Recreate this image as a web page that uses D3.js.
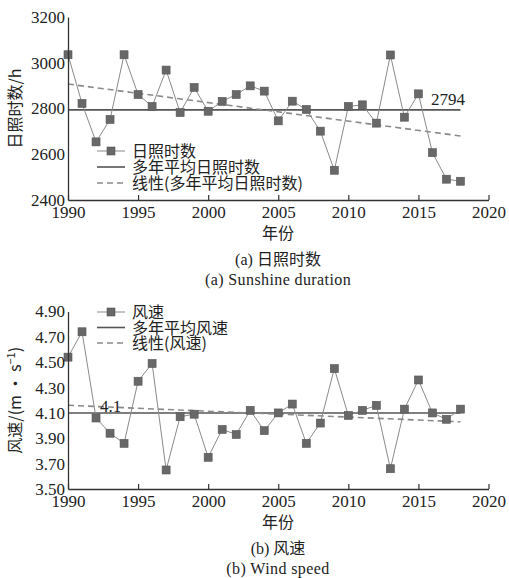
<!DOCTYPE html>
<html>
<head>
<meta charset="utf-8">
<script src="https://cdn.jsdelivr.net/npm/d3@7"></script>
<style>
  body { margin: 0; background: #fff; }
  text { fill: #222; }
  .num { font-family: "Liberation Serif", "Times New Roman", serif; font-size: 17px; }
  .cjk { font-family: "Noto Sans CJK SC", sans-serif; font-size: 16px; }
</style>
</head>
<body>
<script>
// years shared by both panels
var years = d3.range(1990, 2019);

// (a) sunshine duration, hours
var sunshine = [3035, 2822, 2654, 2752, 3035, 2861, 2809, 2968, 2782, 2892,
                2788, 2831, 2861, 2899, 2876, 2746, 2832, 2796, 2701, 2530,
                2809, 2816, 2736, 3034, 2762, 2864, 2607, 2491, 2482];
var sunMean = 2794;
var sunTrend = [2907, 2680];   // linear fit at 1990 and 2018
var sunTicks = [2400, 2600, 2800, 3000, 3200];

// (b) wind speed, m/s
var wind = [4.54, 4.74, 4.06, 3.94, 3.86, 4.35, 4.49, 3.65, 4.07, 4.09,
            3.75, 3.97, 3.93, 4.12, 3.96, 4.10, 4.17, 3.86, 4.02, 4.45,
            4.08, 4.12, 4.16, 3.66, 4.13, 4.36, 4.10, 4.05, 4.13];
var windMean = 4.1;
var windTrend = [4.16, 4.03];
var windTicks = [3.50, 3.70, 3.90, 4.10, 4.30, 4.50, 4.70, 4.90];

var xTicks = [1990, 1995, 2000, 2005, 2010, 2015, 2020];

var W = 509, H = 578;
var svg = d3.select("body").append("svg")
  .attr("width", W)
  .attr("height", H);

var x = d3.scaleLinear().domain([1990, 2020]).range([68, 488.5]);

function panel(opt) {
  var y = d3.scaleLinear().domain(opt.domain).range([opt.bottom, opt.top]);
  var g = svg.append("g");
  var pts = years.map(function(yr, i) { return {year: yr, v: opt.values[i]}; });

  // mean line
  g.append("line")
    .attr("x1", x(1990)).attr("x2", x(2018))
    .attr("y1", y(opt.mean)).attr("y2", y(opt.mean))
    .attr("stroke", "#555").attr("stroke-width", 1.6);

  // linear trend
  g.append("line")
    .attr("x1", x(1990)).attr("x2", x(2018))
    .attr("y1", y(opt.trend[0])).attr("y2", y(opt.trend[1]))
    .attr("stroke", "#8a8a8a").attr("stroke-width", 1.6)
    .attr("stroke-dasharray", "6,4");

  // data line + markers
  var line = d3.line()
    .x(function(d) { return x(d.year); })
    .y(function(d) { return y(d.v); });
  g.append("path").datum(pts)
    .attr("d", line)
    .attr("fill", "none").attr("stroke", "#8a8a8a").attr("stroke-width", 1);
  g.selectAll("rect.m").data(pts).enter().append("rect")
    .attr("class", "m")
    .attr("x", function(d) { return x(d.year) - 4; })
    .attr("y", function(d) { return y(d.v) - 4; })
    .attr("width", 8).attr("height", 8)
    .attr("fill", "#686868").attr("stroke", "#555").attr("stroke-width", 0.6);

  // mean label
  g.append("text").attr("class", "num")
    .attr("x", opt.meanLabelX).attr("y", y(opt.mean) + opt.meanLabelDy)
    .text(opt.meanLabel);

  // axes
  var xa = g.append("g")
    .attr("transform", "translate(0," + opt.bottom + ")")
    .call(d3.axisBottom(x).tickValues(xTicks).tickFormat(d3.format("d"))
      .tickSizeInner(-5).tickSizeOuter(0).tickPadding(6));
  xa.selectAll("text").attr("class", "num").attr("fill", "#222");

  var ya = g.append("g")
    .attr("transform", "translate(" + x(1990) + ",0)")
    .call(d3.axisLeft(y).tickValues(opt.ticks).tickFormat(opt.fmt)
      .tickSizeInner(0).tickSizeOuter(0).tickPadding(3));
  ya.selectAll("text").attr("class", "num").attr("fill", "#222");
  g.selectAll(".domain").attr("stroke", "#333").attr("stroke-width", 1.3);
  g.selectAll(".tick line").attr("stroke", "#333").attr("stroke-width", 1.2);

  // y title
  g.append("text").attr("class", "cjk")
    .attr("transform", "translate(21," + ((opt.top + opt.bottom) / 2) + ") rotate(-90)")
    .attr("text-anchor", "middle")
    .html(opt.yTitle);

  // x title and captions
  g.append("text").attr("class", "cjk")
    .attr("x", 278).attr("y", opt.bottom + 39)
    .attr("text-anchor", "middle").text("年份");
  g.append("text")
    .attr("x", 278).attr("y", opt.bottom + 65)
    .attr("text-anchor", "middle")
    .html('<tspan class="num" style="font-size:16px">(' + opt.letter + ') </tspan><tspan class="cjk">' + opt.capCn + '</tspan>');
  g.append("text").attr("class", "num")
    .attr("x", 278).attr("y", opt.bottom + 85)
    .attr("text-anchor", "middle").style("font-size", "16px")
    .style("letter-spacing", "0.4px")
    .text("(" + opt.letter + ") " + opt.capEn);

  // legend
  var lg = g.append("g").attr("transform", "translate(97," + opt.legendY + ")");
  opt.legend.forEach(function(label, i) {
    var ly = i * opt.legendStep;
    var l = lg.append("line").attr("x1", 0).attr("x2", 28)
      .attr("y1", ly).attr("y2", ly);
    if (i === 0) {
      l.attr("stroke", "#8a8a8a").attr("stroke-width", 1);
      lg.append("rect").attr("x", 10).attr("y", ly - 4)
        .attr("width", 8).attr("height", 8)
        .attr("fill", "#686868").attr("stroke", "#555").attr("stroke-width", 0.6);
    } else if (i === 1) {
      l.attr("stroke", "#555").attr("stroke-width", 1.6);
    } else {
      l.attr("stroke", "#8a8a8a").attr("stroke-width", 1.6).attr("stroke-dasharray", "6,4");
    }
    lg.append("text").attr("class", "cjk").style("font-size", "16px")
      .attr("x", 35).attr("y", ly + 6).text(label);
  });
}

panel({
  values: sunshine, mean: sunMean, trend: sunTrend, ticks: sunTicks,
  domain: [2400, 3200], top: 17, bottom: 200, fmt: d3.format("d"),
  meanLabel: "2794", meanLabelX: 431, meanLabelDy: -5,
  yTitle: "日照时数/h",
  letter: "a", capCn: "日照时数", capEn: "Sunshine duration",
  legend: ["日照时数", "多年平均日照时数", "线性(多年平均日照时数)"],
  legendY: 151, legendStep: 16
});

panel({
  values: wind, mean: windMean, trend: windTrend, ticks: windTicks,
  domain: [3.5, 4.9], top: 311.5, bottom: 489, fmt: d3.format(".2f"),
  meanLabel: "4.1", meanLabelX: 100, meanLabelDy: -1,
  yTitle: '风速/(m • s<tspan dy="-6" style="font-size:11px">−1</tspan><tspan dy="6">)</tspan>',
  letter: "b", capCn: "风速", capEn: "Wind speed",
  legend: ["风速", "多年平均风速", "线性(风速)"],
  legendY: 312, legendStep: 15.5
});
</script>
</body>
</html>
